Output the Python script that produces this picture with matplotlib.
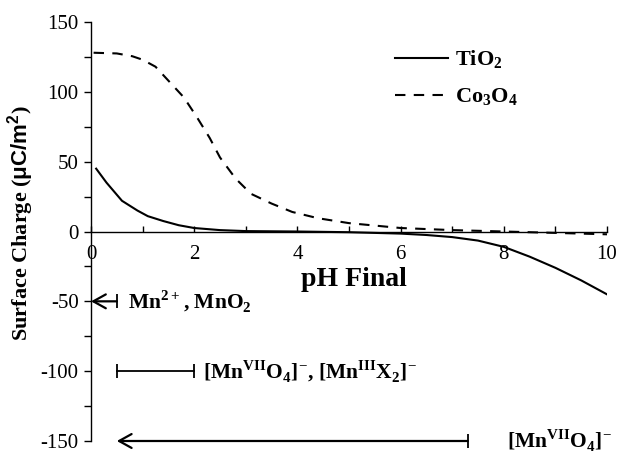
import matplotlib
matplotlib.use('Agg')
import matplotlib.pyplot as plt
from matplotlib.ticker import MultipleLocator

plt.rcParams['font.family'] = 'Liberation Serif'
plt.rcParams['mathtext.fontset'] = 'custom'
plt.rcParams['mathtext.rm'] = 'Liberation Serif'
plt.rcParams['mathtext.bf'] = 'Liberation Serif:bold'
plt.rcParams['mathtext.sf'] = 'Liberation Sans:bold'
plt.rcParams['axes.unicode_minus'] = False

# ----- data -----
ph_tio2 = [0.1, 0.3, 0.6, 0.9, 1.1, 1.4, 1.7, 2.0, 2.5, 3.0, 4.0, 5.0,
           6.0, 6.5, 7.0, 7.5, 8.0, 8.5, 9.0, 9.5, 10.0]
charge_tio2 = [45, 35, 22, 15, 11, 7.5, 4.5, 2.5, 1, 0.3, 0, -0.5,
               -1.5, -2.5, -4, -6.5, -11, -18, -26, -35, -45]

ph_co3o4 = [0.05, 0.5, 0.8, 1.0, 1.25, 1.5, 1.8, 2.05, 2.3, 2.5, 2.8,
            3.1, 3.5, 3.9, 4.4, 5.0, 6.0, 7.0, 8.0, 9.0, 10.0]
charge_co3o4 = [128, 127.5, 125.5, 123, 118, 108, 96, 82, 67, 53, 38,
                27, 20, 14, 9.5, 6, 2.5, 1, 0, -1, -2]

# pH ranges of the Mn species (drawn below the axis)
range_level = [-50, -100, -150]
range_lo = [0.0, 0.5, 0.5]
range_hi = [0.5, 2.0, 7.3]
range_open_left = [True, False, True]
range_text_x = [0.72, 2.17, 8.06]
range_text = [
    r'Mn$^{\mathbf{2+}}$, MnO$_{\mathbf{2}}$',
    r'[Mn$^{\mathbf{VII}}$O$_{\mathbf{4}}$]$^{-}$, [Mn$^{\mathbf{III}}$X$_{\mathbf{2}}$]$^{-}$',
    r'[Mn$^{\mathbf{VII}}$O$_{\mathbf{4}}$]$^{-}$',
]

fig = plt.figure(figsize=(6.17, 4.53), dpi=100)
ax = fig.add_axes([0.1475, 0.0265, 0.8363, 0.9249])

ax.plot(ph_tio2, charge_tio2, color='black', lw=1.5, label=r'TiO$_{\mathbf{2}}$')
ax.plot(ph_co3o4, charge_co3o4, color='black', lw=1.5, ls=(0, (5, 4)),
        label=r'Co$_{\mathbf{3}}$O$_{\mathbf{4}}$')

for lvl, lo, hi, open_left, tx, txt in zip(range_level, range_lo, range_hi,
                                           range_open_left, range_text_x, range_text):
    if open_left:
        ax.annotate('', xy=(lo, lvl), xytext=(hi, lvl), annotation_clip=False,
                    arrowprops=dict(arrowstyle='->,head_length=0.45,head_width=0.25',
                                    color='black', lw=1.6, shrinkA=0, shrinkB=0,
                                    mutation_scale=20))
        ax.plot([hi], [lvl], marker='|', ms=9.5, mew=1.3, color='black', clip_on=False)
    else:
        ax.plot([lo, hi], [lvl, lvl], color='black', lw=1.3, clip_on=False)
        ax.plot([lo, hi], [lvl, lvl], ls='none', marker='|', ms=9.5, mew=1.3,
                color='black', clip_on=False)
    ax.text(tx, lvl - 5, txt, fontsize=15.5, fontweight='bold', ha='left',
            va='baseline', clip_on=False)

ax.set_xlim(0, 10)
ax.set_ylim(-150, 150)
ax.spines['bottom'].set_position(('data', 0))
ax.spines['top'].set_visible(False)
ax.spines['right'].set_visible(False)
for s in ['left', 'bottom']:
    ax.spines[s].set_linewidth(1.0)

ax.xaxis.set_major_locator(MultipleLocator(2))
ax.xaxis.set_minor_locator(MultipleLocator(1))
ax.yaxis.set_major_locator(MultipleLocator(50))
ax.yaxis.set_minor_locator(MultipleLocator(25))
ax.tick_params(axis='x', which='both', direction='in', length=4, width=1,
               labelsize=15, pad=10)
ax.tick_params(axis='y', which='both', direction='out', length=5, width=1,
               labelsize=15, pad=4)

ax.set_xlabel('pH Final', fontsize=20, fontweight='bold')
ax.xaxis.set_label_coords(0.51, 0.415)
ax.set_ylabel(r'Surface Charge ($\mathsf{\mu C/m^{2}}$)', fontsize=16, fontweight='bold')
ax.yaxis.set_label_coords(-0.107, 0.52)

ax.legend(loc='center left', bbox_to_anchor=(0.589, 0.866), frameon=False,
          prop={'weight': 'bold', 'size': 16}, handlelength=2.4,
          handletextpad=0.3, borderpad=0, borderaxespad=0, labelspacing=0.7)

fig.savefig('out.png', dpi=100)
